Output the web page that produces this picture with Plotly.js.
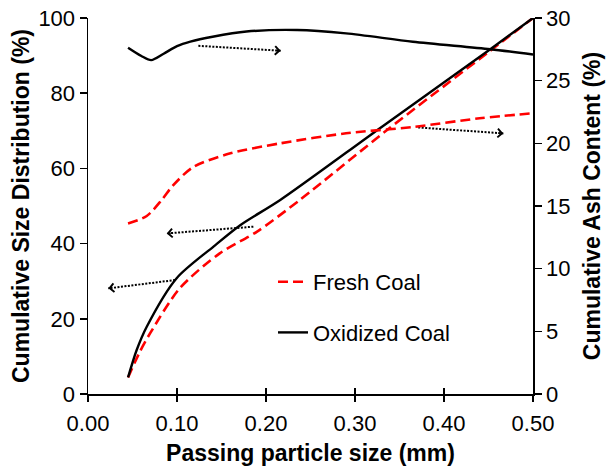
<!DOCTYPE html>
<html>
<head>
<meta charset="utf-8">
<script src="https://cdn.plot.ly/plotly-3.0.1.min.js"></script>
<style>html,body{margin:0;padding:0;background:#fff;}#chart{width:615px;height:466px;}</style>
</head>
<body>
<div id="chart"></div>
<script>
// Cumulative size distribution (left axis, %)
const freshSizeX = [0.045, 0.0584, 0.0697, 0.103, 0.148, 0.19, 0.238, 0.336, 0.452, 0.5];
const freshSizeY = [4.4, 11.3, 16.1, 28.1, 37.4, 43.2, 51.6, 70.2, 91.3, 100];
const oxSizeX = [0.045, 0.0547, 0.066, 0.0996, 0.141, 0.171, 0.216, 0.328, 0.452, 0.5];
const oxSizeY = [4.4, 11.7, 17.9, 30.8, 39.2, 44.9, 51.6, 70.7, 91.7, 100];
// Cumulative ash content (right axis, %)
const freshAshX = [0.045, 0.066, 0.083, 0.095, 0.118, 0.16, 0.216, 0.29, 0.365, 0.44, 0.5];
const freshAshY = [13.6, 14.2, 15.5, 16.6, 18.1, 19.2, 20.0, 20.8, 21.3, 22.0, 22.4];
const oxAshX = [0.045, 0.06, 0.071, 0.085, 0.1, 0.115, 0.14, 0.178, 0.235, 0.29, 0.365, 0.452, 0.5];
const oxAshY = [27.63, 26.97, 26.64, 27.15, 27.75, 28.11, 28.5, 28.92, 29.04, 28.77, 28.11, 27.51, 27.09];
// Dotted arrows (start -> end), left-axis units
const arrowX0 = [0.124, 0.371, 0.1858, 0.0978];
const arrowY0 = [92.6, 70.9, 44.5, 30.3];
const arrowX1 = [0.2165, 0.4667, 0.0884, 0.0228];
const arrowY1 = [91.3, 69.3, 42.7, 28.1];
const seriesNames = ['Fresh Coal', 'Oxidized Coal'];
const xTicks = [0, 0.1, 0.2, 0.3, 0.4, 0.5];

const RED = '#ff0000', BLACK = '#000000';
const FONT = 'Liberation Sans, Arial, sans-serif';

const traces = [
  {x: freshSizeX, y: freshSizeY, yaxis: 'y', mode: 'lines', name: seriesNames[0], legendgroup: 'a',
   line: {color: RED, width: 2.6, dash: '10px,5px', shape: 'spline', smoothing: 0.8}},
  {x: freshAshX, y: freshAshY, yaxis: 'y2', mode: 'lines', name: seriesNames[0], legendgroup: 'a', showlegend: false,
   line: {color: RED, width: 2.6, dash: '10px,5px', shape: 'spline', smoothing: 0.8}},
  {x: oxSizeX, y: oxSizeY, yaxis: 'y', mode: 'lines', name: seriesNames[1], legendgroup: 'b',
   line: {color: BLACK, width: 2.4, shape: 'spline', smoothing: 0.8}},
  {x: oxAshX, y: oxAshY, yaxis: 'y2', mode: 'lines', name: seriesNames[1], legendgroup: 'b', showlegend: false,
   line: {color: BLACK, width: 2.4, shape: 'spline', smoothing: 0.8}}
];

const annotations = [];
for (let i = 0; i < arrowX0.length; i++) {
  traces.push({x: [arrowX0[i], arrowX1[i]], y: [arrowY0[i], arrowY1[i]], yaxis: 'y', mode: 'lines',
    showlegend: false, hoverinfo: 'skip', line: {color: BLACK, width: 2, dash: '2px,1.5px'}});
  const k = 0.08;
  annotations.push({x: arrowX1[i], y: arrowY1[i], xref: 'x', yref: 'y',
    ax: arrowX1[i] - (arrowX1[i] - arrowX0[i]) * k, ay: arrowY1[i] - (arrowY1[i] - arrowY0[i]) * k,
    axref: 'x', ayref: 'y', text: '', showarrow: true, arrowhead: 4, arrowsize: 1.4, arrowwidth: 1.2,
    arrowcolor: BLACK});
}
// invisible trace to activate the cross-tick overlay axis
traces.push({x: [0], y: [0], xaxis: 'x2', yaxis: 'y', mode: 'markers', marker: {opacity: 0}, showlegend: false, hoverinfo: 'skip'});

const layout = {
  width: 615, height: 466,
  margin: {l: 88, r: 82, t: 18, b: 72},
  paper_bgcolor: '#fff', plot_bgcolor: '#fff',
  font: {family: FONT, size: 22, color: '#000'},
  showlegend: true,
  legend: {x: (273 - 88) / 445, xanchor: 'left', y: (394 - 261) / 376, yanchor: 'top',
    bgcolor: 'rgba(0,0,0,0)', font: {family: FONT, size: 22, color: '#000'},
    traceorder: 'grouped', tracegroupgap: 19},
  xaxis: {range: [0, 0.5], tickvals: xTicks, tickformat: '.2f', showgrid: false, zeroline: false,
    showline: true, linecolor: '#000', linewidth: 1.5, ticks: 'outside', ticklen: 6, tickwidth: 1.5, tickcolor: '#000',
    ticklabelstandoff: 3,
    tickfont: {size: 22}, title: {text: '<b>Passing particle size (mm)</b>', font: {size: 23}, standoff: 10}},
  xaxis2: {overlaying: 'x', matches: 'x', anchor: 'y', side: 'bottom', tickvals: xTicks, showticklabels: false,
    ticks: 'inside', ticklen: 6, tickwidth: 1.5, tickcolor: '#000', showgrid: false, zeroline: false, showline: false},
  yaxis: {range: [0, 100], dtick: 20, showgrid: false, zeroline: false, showline: true, linecolor: '#000', linewidth: 1.5,
    ticks: 'outside', ticklen: 7, tickwidth: 1.5, tickcolor: '#000', tickfont: {size: 22},
    title: {text: '<b>Cumulative Size Distribution (%)</b>', font: {size: 23}, standoff: 2}},
  yaxis2: {overlaying: 'y', side: 'right', range: [0, 30], dtick: 5, showgrid: false, zeroline: false, showline: true,
    linecolor: '#000', linewidth: 1.5, ticks: 'outside', ticklen: 7, tickwidth: 1.5, tickcolor: '#000', tickfont: {size: 22},
    title: {text: '<b>Cumulative Ash Content (%)</b>', font: {size: 23}, standoff: 14}},
  annotations: annotations
};

Plotly.newPlot('chart', traces, layout, {displayModeBar: false, staticPlot: true});
</script>
</body>
</html>
